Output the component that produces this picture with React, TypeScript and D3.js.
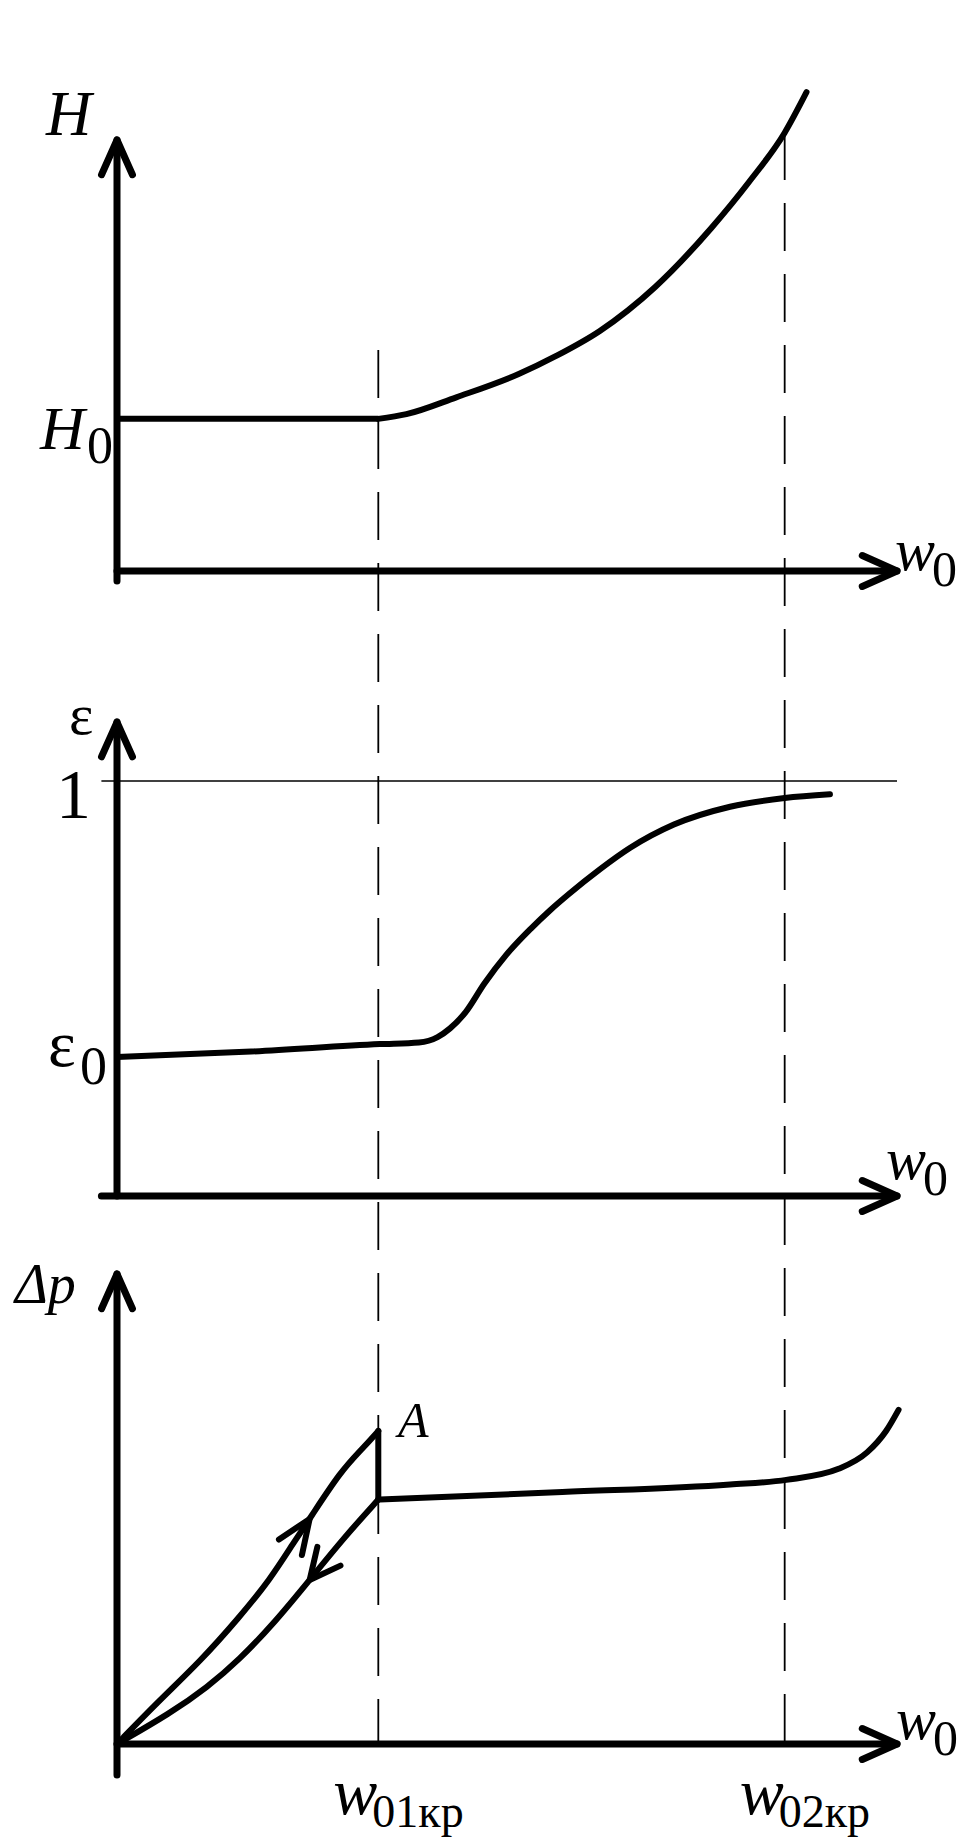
import React from 'react';
import * as d3 from 'd3';

// ---------- data (w0 in % of axis length) ----------
const W01 = 33.5; // w01кр
const W02 = 85.6; // w02кр

// Panel 1: H(w0)
const H0 = 35.3;
const hCurveX = [33.5, 37.1, 43.5, 51.5, 56.3, 61.9, 69.0, 76.2, 81.0, 85.6, 88.4];
const hCurveY = [35.3, 36.4, 40.3, 45.7, 49.9, 55.7, 65.9, 79.6, 90.2, 101.7, 111.1];

// Panel 2: eps(w0), 1 = limit line
const EPS0 = 0.335;
const epsX = [0, 17.2, 33.7, 38.7, 41.1, 42.7, 44.7, 47.1, 49.9, 53.1, 55.5, 57.9, 61.9, 65.8, 71.4, 78.6, 85.6, 91.4];
const epsY = [EPS0, 0.348, 0.366, 0.370, 0.383, 0.404, 0.443, 0.512, 0.581, 0.645, 0.688, 0.727, 0.787, 0.839, 0.895, 0.938, 0.959, 0.968];

// Panel 3: Δp(w0)
const upX = [0, 5.2, 10.8, 15.6, 19.6, 22.7, 24.7, 28.7, 31.5, 33.5];
const upY = [0, 8.9, 17.8, 26.8, 34.9, 43.0, 47.9, 58.1, 62.9, 66.6];
const PEAK_A = 66.6;
const JUNCTION = 52.0;
const downX = [33.5, 29.1, 24.7, 20.3, 15.6, 11.6, 6.8, 0];
const downY = [52.0, 43.9, 34.9, 26.0, 17.8, 12.1, 6.5, 0];
const platX = [33.5, 57.1, 78.6, 85.8, 92.6, 96.2, 98.6, 100.2];
const platY = [52.0, 53.6, 55.2, 56.2, 58.6, 62.1, 66.6, 71.1];
const UP_ARROW_IDX = 6;   // arrow on rising branch
const DOWN_ARROW_IDX = 2; // arrow on falling branch

const X_LABELS = ['01кр', '02кр'];

// ---------- scales ----------
const x = d3.scaleLinear().domain([0, 100]).range([117, 897]);
const y1 = d3.scaleLinear().domain([0, 100]).range([571, 140]);
const y2 = d3.scaleLinear().domain([0, 1]).range([1196, 781]);
const Y2_TOP = 1.142;
const y3 = d3.scaleLinear().domain([0, 100]).range([1744, 1274]);

const FONT = '"Liberation Serif", "Times New Roman", serif';

type P = [number, number];

function arrowHead(tip: P, from: P, len: number, angDeg: number) {
  const dx = from[0] - tip[0], dy = from[1] - tip[1];
  const L = Math.hypot(dx, dy);
  const ux = dx / L, uy = dy / L;
  const a = (angDeg * Math.PI) / 180;
  const r = (s: number): P => [
    tip[0] + len * (ux * Math.cos(s) - uy * Math.sin(s)),
    tip[1] + len * (ux * Math.sin(s) + uy * Math.cos(s)),
  ];
  const p1 = r(a), p2 = r(-a);
  return `M${p1[0]},${p1[1]}L${tip[0]},${tip[1]}L${p2[0]},${p2[1]}`;
}

const zip = (xs: number[], ys: number[]): P[] => xs.map((v, i) => [v, ys[i]]);

export default function App() {
  const lin1 = d3.line<P>().x(d => x(d[0])).y(d => y1(d[1]));
  const curve1 = d3.line<P>().x(d => x(d[0])).y(d => y1(d[1])).curve(d3.curveMonotoneX);
  const curve2 = d3.line<P>().x(d => x(d[0])).y(d => y2(d[1])).curve(d3.curveMonotoneX);
  const curve3 = d3.line<P>().x(d => x(d[0])).y(d => y3(d[1])).curve(d3.curveBasis);
  const curve3m = d3.line<P>().x(d => x(d[0])).y(d => y3(d[1])).curve(d3.curveMonotoneX);

  const axisW = 7;
  const curveW = 6;
  const AL = 38, AA = 24;

  const x0 = x(0);
  const xEnd = x(100);

  const axisArrowsY = (top: number) => arrowHead([x0, top], [x0, top + 10], AL, AA);
  const axisArrowsX = (yy: number) => arrowHead([xEnd, yy], [xEnd - 10, yy], AL, AA);

  const upTip: P = [x(upX[UP_ARROW_IDX]), y3(upY[UP_ARROW_IDX])];
  const upFrom: P = [x(upX[UP_ARROW_IDX - 1]), y3(upY[UP_ARROW_IDX - 1])];
  const dnTip: P = [x(downX[DOWN_ARROW_IDX]), y3(downY[DOWN_ARROW_IDX])];
  const dnFrom: P = [x(downX[DOWN_ARROW_IDX - 1]), y3(downY[DOWN_ARROW_IDX - 1])];

  const dashTop = [350, 132];
  const dashBottom = y3(0);

  const italic = { fontFamily: FONT, fontStyle: 'italic' as const };
  const upright = { fontFamily: FONT };

  return (
    <svg width={977} height={1839} style={{ position: 'absolute', left: 0, top: 0, background: '#fff' }}>
      <rect x={0} y={0} width={977} height={1839} fill="#fff" />
      {/* dashed guides */}
      {[W01, W02].map((w, i) => (
        <line key={i} x1={x(w)} x2={x(w)} y1={dashTop[i]} y2={dashBottom} stroke="#000" strokeWidth={1.8} strokeDasharray="48 23" />
      ))}

      {/* ---------- Panel 1 ---------- */}
      <g fill="none" stroke="#000" strokeLinecap="round" strokeLinejoin="round">
        <line x1={x0} x2={x0} y1={y1(100)} y2={y1(0) + 10} strokeWidth={axisW} />
        <line x1={x0} x2={xEnd} y1={y1(0)} y2={y1(0)} strokeWidth={axisW} />
        <path d={axisArrowsY(y1(100))} strokeWidth={axisW} />
        <path d={axisArrowsX(y1(0))} strokeWidth={axisW} />
        <path d={lin1([[0, H0], [W01, H0]]) || ''} strokeWidth={curveW} strokeLinecap="butt" />
        <path d={curve1(zip(hCurveX, hCurveY)) || ''} strokeWidth={curveW} />
      </g>
      <text x={46} y={135} fontSize={63} {...italic}>H</text>
      <text x={40} y={449} fontSize={62} {...italic}>H</text>
      <text x={87} y={463} fontSize={52} {...upright}>0</text>
      <text x={895} y={570} fontSize={60} {...italic}>w</text>
      <text x={932} y={586} fontSize={50} {...upright}>0</text>

      {/* ---------- Panel 2 ---------- */}
      <g fill="none" stroke="#000" strokeLinecap="round" strokeLinejoin="round">
        <line x1={x(-2)} x2={xEnd} y1={y2(1)} y2={y2(1)} strokeWidth={1.5} strokeLinecap="butt" />
        <line x1={x0} x2={x0} y1={y2(Y2_TOP)} y2={y2(0)} strokeWidth={axisW} />
        <line x1={x(-2)} x2={xEnd} y1={y2(0)} y2={y2(0)} strokeWidth={axisW} />
        <path d={axisArrowsY(y2(Y2_TOP))} strokeWidth={axisW} />
        <path d={axisArrowsX(y2(0))} strokeWidth={axisW} />
        <path d={curve2(zip(epsX, epsY)) || ''} strokeWidth={curveW} />
      </g>
      <text x={69} y={734} fontSize={58} {...upright}>ε</text>
      <text x={56} y={818} fontSize={70} {...upright}>1</text>
      <text x={48} y={1066} fontSize={66} {...upright}>ε</text>
      <text x={80} y={1084} fontSize={54} {...upright}>0</text>
      <text x={886} y={1179} fontSize={60} {...italic}>w</text>
      <text x={923} y={1195} fontSize={50} {...upright}>0</text>

      {/* ---------- Panel 3 ---------- */}
      <g fill="none" stroke="#000" strokeLinecap="round" strokeLinejoin="round">
        <line x1={x0} x2={x0} y1={y3(100)} y2={y3(0) + 31} strokeWidth={axisW} />
        <line x1={x0} x2={xEnd} y1={y3(0)} y2={y3(0)} strokeWidth={axisW} />
        <path d={axisArrowsY(y3(100))} strokeWidth={axisW} />
        <path d={axisArrowsX(y3(0))} strokeWidth={axisW} />
        <path d={curve3(zip(upX, upY)) || ''} strokeWidth={curveW} />
        <line x1={x(W01)} x2={x(W01)} y1={y3(PEAK_A)} y2={y3(JUNCTION)} strokeWidth={curveW} />
        <path d={curve3(zip(downX, downY)) || ''} strokeWidth={curveW} />
        <path d={curve3m(zip(platX, platY)) || ''} strokeWidth={curveW} />
        <path d={arrowHead(upTip, upFrom, 37, 22)} strokeWidth={curveW} />
        <path d={arrowHead(dnTip, dnFrom, 34, 26)} strokeWidth={curveW} />
      </g>
      <text x={15} y={1303} fontSize={56} {...italic}>Δp</text>
      <text x={398} y={1437} fontSize={50} {...italic}>A</text>
      <text x={896} y={1739} fontSize={60} {...italic}>w</text>
      <text x={933} y={1755} fontSize={50} {...upright}>0</text>
      {[W01, W02].map((w, i) => (
        <g key={i}>
          <text x={x(w) - 45} y={1814} fontSize={66} {...italic}>w</text>
          <text x={x(w) - 6} y={1827} fontSize={46} {...upright}>{X_LABELS[i]}</text>
        </g>
      ))}
    </svg>
  );
}
